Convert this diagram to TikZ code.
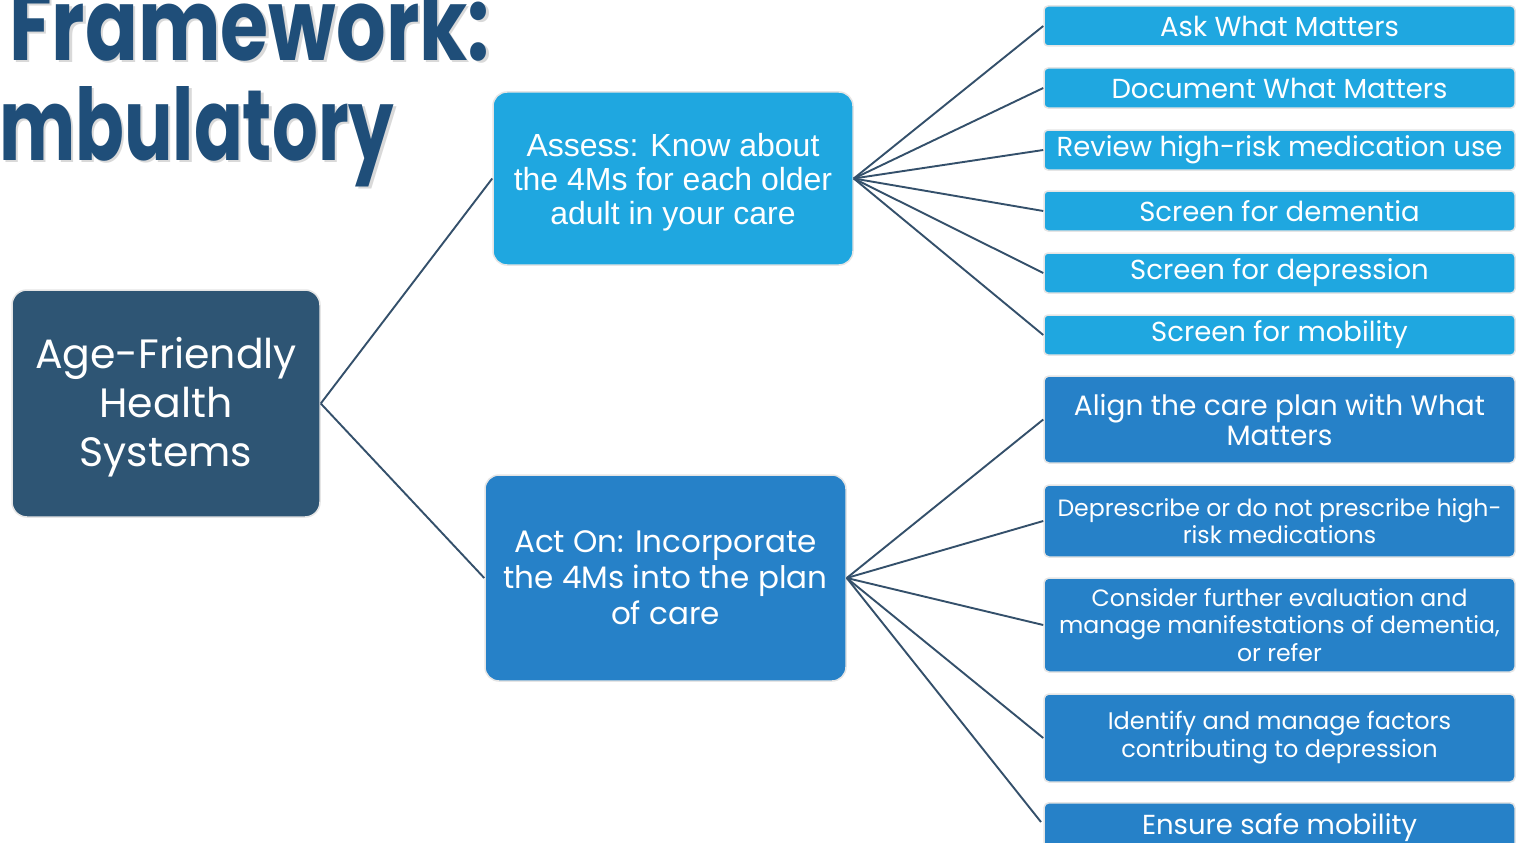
\documentclass[tikz,border=0pt]{standalone}
\usepackage{fontspec}
\setmainfont{Poppins}
\newfontfamily\arialfont{Liberation Sans}
\newfontfamily\titlefont{Poppins}[UprightFont=* Bold]
\definecolor{titleblue}{HTML}{1F4E79}
\definecolor{rootfill}{HTML}{2E5574}
\definecolor{skyfill}{HTML}{1FA7E0}
\definecolor{midfill}{HTML}{2681C8}
\definecolor{linkcol}{HTML}{34506B}
\tikzset{
  box/.style={rectangle, draw=black!10, line width=1.5pt, text=white, align=center, inner sep=2pt},
  rootbox/.style={box, fill=rootfill, rounded corners=15pt, font=\fontsize{41}{49}\selectfont},
  stagebox/.style={box, fill=skyfill, rounded corners=14pt},
  actbox/.style={box, fill=midfill, rounded corners=14pt, font=\fontsize{31}{36}\selectfont},
  stepbox/.style={box, fill=skyfill, rounded corners=4pt, minimum width=471pt, minimum height=40pt, font=\fontsize{27.5}{30}\selectfont},
  actstep/.style={box, fill=midfill, rounded corners=5pt, minimum width=471pt, font=\fontsize{23.6}{27.5}\selectfont},
  titletext/.style={anchor=base west, inner sep=0pt, font=\titlefont\fontsize{100}{100}\selectfont},
  link/.style={draw=linkcol, line width=1.9pt},
}
\begin{document}
\begin{tikzpicture}[x=1pt, y=-1pt]
\useasboundingbox (0,0) rectangle (1516,843);
\clip (0,0) rectangle (1516,843);
\fill[white] (0,0) rectangle (1516,843);

% slide title with a soft drop shadow
\node[titletext, text=black!15] (t1s) at (11.5,62.5) {\scalebox{0.78}[1]{Framework:}};
\node[titletext, text=black!15] (t2s) at (1.5,162.5) {\scalebox{0.72}[1]{mbulatory}};
\node[titletext, text=titleblue] (t1) at (9,60) {\scalebox{0.78}[1]{Framework:}};
\node[titletext, text=titleblue] (t2) at (-1,160) {\scalebox{0.72}[1]{mbulatory}};

% tree nodes
\node[rootbox, minimum width=308pt, minimum height=227pt] (root) at (166,403.5) {\rule{0pt}{38pt}Age-Friendly\\Health\\Systems};
\node[stagebox, minimum width=360pt, minimum height=173pt, font=\arialfont\fontsize{32}{34}\selectfont] (assess) at (673,178.5) {\rule{0pt}{30pt}Assess: Know about\\the 4Ms for each older\\adult in your care};
\node[actbox, minimum width=361pt, minimum height=206pt] (act) at (665.5,578) {Act On: Incorporate\\the 4Ms into the plan\\of care};

\node[stepbox] (a1) at (1279.5,26) {Ask What Matters};
\node[stepbox] (a2) at (1279.5,88) {Document What Matters};
\node[stepbox] (a3) at (1279.5,150) {Review high-risk medication use};
\node[stepbox] (a4) at (1279.5,211) {Screen for dementia};
\node[stepbox] (a5) at (1279.5,273) {Screen for depression};
\node[stepbox] (a6) at (1279.5,335) {Screen for mobility};

\node[actstep, minimum height=87pt, font=\fontsize{28}{30}\selectfont] (b1) at (1279.5,419.5) {Align the care plan with What\\Matters};
\node[actstep, minimum height=72pt] (b2) at (1279.5,521) {Deprescribe or do not prescribe high-\\risk medications};
\node[actstep, minimum height=94pt] (b3) at (1279.5,625) {Consider further evaluation and\\manage manifestations of dementia,\\or refer};
\node[actstep, minimum height=88pt, font=\fontsize{24}{28}\selectfont] (b4) at (1279.5,738) {Identify and manage factors\\contributing to depression};
\node[actstep, anchor=north, font=\fontsize{27.5}{30}\selectfont, text height=30pt, text depth=20pt] (b5) at (1279.5,802) {Ensure safe mobility};

% connectors
\draw[link] (root.east) -- (assess.west);
\draw[link] (root.east) -- (act.west);
\foreach \n in {a1,a2,a3,a4,a5,a6}{\draw[link] (assess.east) -- (\n.west);}
\foreach \n in {b1,b2,b3,b4}{\draw[link] (act.east) -- (\n.west);}
\coordinate (b5end) at (1041,822);
\draw[link] (act.east) -- (b5end);
\end{tikzpicture}
\end{document}
